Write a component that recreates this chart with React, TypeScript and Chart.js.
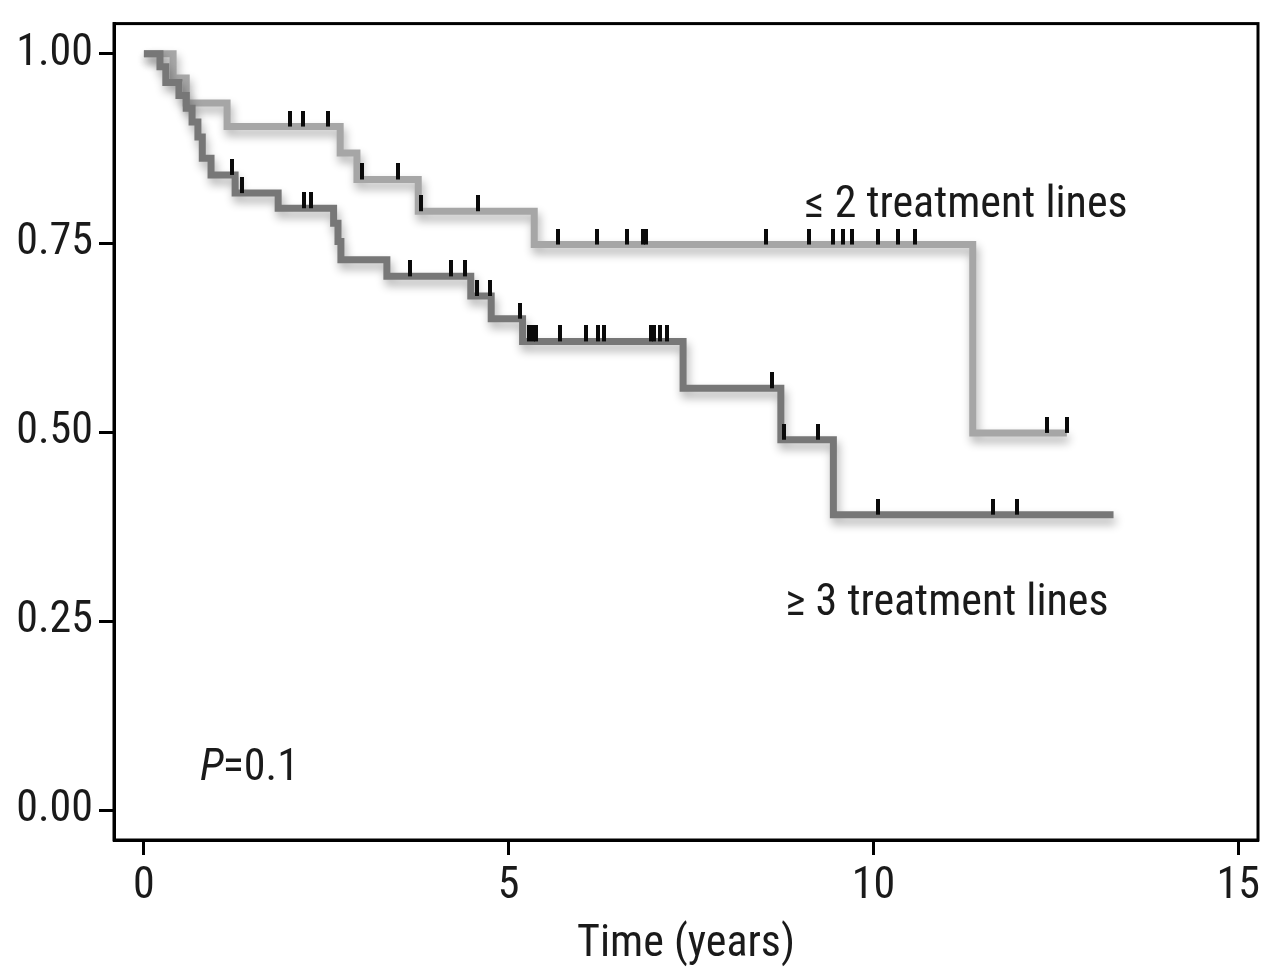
import React, { useEffect, useRef } from "react";
import { Chart, registerables } from "chart.js";

Chart.register(...registerables);

const FONT = '"Roboto Condensed", "DejaVu Sans Condensed", sans-serif';

const xTicks = [0, 5, 10, 15];
const yTicks = [0, 0.25, 0.5, 0.75, 1.0];

// <= 2 treatment lines (light grey)
const lowTimes = [0, 0.4, 0.58, 1.14, 2.69, 2.92, 3.76, 5.35, 11.36, 12.65];
const lowSurv = [1.0, 0.968, 0.935, 0.904, 0.869, 0.834, 0.792, 0.748, 0.499, 0.499];
const lowCensorTimes = [2.0, 2.18, 2.52, 2.99, 3.48, 3.8, 4.58, 5.68, 6.21, 6.62, 6.84, 6.88, 8.52, 9.12, 9.45, 9.58, 9.7, 10.06, 10.34, 10.57, 12.38, 12.65];

// >= 3 treatment lines (dark grey)
const highTimes = [0, 0.22, 0.3, 0.48, 0.58, 0.66, 0.74, 0.8, 0.92, 1.25, 1.84, 2.6, 2.66, 2.7, 3.33, 4.48, 4.76, 5.19, 7.39, 8.73, 9.45, 13.29];
const highSurv = [1.0, 0.983, 0.962, 0.945, 0.928, 0.91, 0.89, 0.862, 0.84, 0.816, 0.796, 0.776, 0.752, 0.728, 0.706, 0.68, 0.65, 0.62, 0.558, 0.49, 0.391, 0.391];
const highCensorTimes = [1.21, 1.35, 2.19, 2.29, 3.65, 4.21, 4.4, 4.56, 4.74, 5.16, 5.28, 5.33, 5.38, 5.7, 6.06, 6.23, 6.31, 6.95, 6.99, 7.07, 7.17, 8.61, 8.77, 9.24, 10.06, 11.64, 11.96];

const LIGHT = "#a6a6a6";
const DARK = "#777777";

function survivalAt(times: number[], surv: number[], t: number) {
  let v = surv[0];
  for (let i = 0; i < times.length; i++) {
    if (times[i] <= t) v = surv[i];
  }
  return v;
}

export default function App() {
  const ref = useRef<HTMLCanvasElement | null>(null);

  useEffect(() => {
    const canvas = ref.current;
    if (!canvas) return;

    const mark = document.createElement("canvas");
    mark.width = 4;
    mark.height = 32;
    const mctx = mark.getContext("2d")!;
    mctx.fillStyle = "#0a0a0a";
    mctx.fillRect(0, 0, 4, 16);

    const shadowPlugin = {
      id: "kmShadow",
      beforeDatasetDraw(chart: any, args: any) {
        if (args.index < 2) {
          const ctx = chart.ctx;
          ctx.save();
          ctx.shadowColor = "rgba(0,0,0,0.32)";
          ctx.shadowBlur = 10;
          ctx.shadowOffsetX = 2;
          ctx.shadowOffsetY = 6;
        }
      },
      afterDatasetDraw(chart: any, args: any) {
        if (args.index < 2) chart.ctx.restore();
      },
    };

    const decorPlugin = {
      id: "kmDecor",
      afterDraw(chart: any) {
        const { ctx, chartArea } = chart;
        const xs = chart.scales.x;
        const ys = chart.scales.y;
        ctx.save();
        ctx.strokeStyle = "#000";
        ctx.lineWidth = 3;
        ctx.strokeRect(chartArea.left, chartArea.top, chartArea.right - chartArea.left, chartArea.bottom - chartArea.top);

        ctx.fillStyle = "#1a1a1a";
        ctx.textBaseline = "alphabetic";
        ctx.textAlign = "left";
        ctx.font = `44px ${FONT}`;
        ctx.fillText("\u2264 2 treatment lines", xs.getPixelForValue(9.06), ys.getPixelForValue(0.785));
        ctx.fillText("\u2265 3 treatment lines", xs.getPixelForValue(8.79), ys.getPixelForValue(0.258));

        const px = xs.getPixelForValue(0.77);
        const py = ys.getPixelForValue(0.04);
        ctx.font = `italic 44px ${FONT}`;
        ctx.fillText("P", px, py);
        const w = ctx.measureText("P").width;
        ctx.font = `44px ${FONT}`;
        ctx.fillText("=0.1", px + w - 1, py);
        ctx.restore();
      },
    };

    const chart = new Chart(canvas, {
      type: "line",
      data: {
        datasets: [
          {
            label: "\u2265 3 treatment lines",
            data: highTimes.map((t, i) => ({ x: t, y: highSurv[i] })),
            stepped: "before",
            borderColor: DARK,
            borderWidth: 7,
            pointRadius: 0,
            fill: false,
            order: 2,
          } as any,
          {
            label: "\u2264 2 treatment lines",
            data: lowTimes.map((t, i) => ({ x: t, y: lowSurv[i] })),
            stepped: "before",
            borderColor: LIGHT,
            borderWidth: 7,
            pointRadius: 0,
            fill: false,
            order: 3,
          } as any,
          {
            type: "scatter",
            label: "censored \u2265 3",
            data: highCensorTimes.map((t) => ({ x: t, y: survivalAt(highTimes, highSurv, t) })),
            pointStyle: mark,
            pointRadius: 10,
            showLine: false,
            order: 0,
          } as any,
          {
            type: "scatter",
            label: "censored \u2264 2",
            data: lowCensorTimes.map((t) => ({ x: t, y: survivalAt(lowTimes, lowSurv, t) })),
            pointStyle: mark,
            pointRadius: 10,
            showLine: false,
            order: 1,
          } as any,
        ],
      },
      options: {
        animation: false,
        responsive: false,
        devicePixelRatio: 1,
        layout: { padding: { left: 0, right: 22, top: 22, bottom: 0 } },
        plugins: { legend: { display: false }, tooltip: { enabled: false } },
        scales: {
          x: {
            type: "linear",
            min: -0.41,
            max: 15.27,
            afterBuildTicks: (axis: any) => {
              axis.ticks = xTicks.map((v) => ({ value: v }));
            },
            afterFit: (axis: any) => {
              axis.height = 135;
            },
            ticks: {
              font: { family: FONT, size: 44 },
              color: "#1a1a1a",
              padding: 6,
              maxRotation: 0,
              autoSkip: false,
            },
            grid: { drawOnChartArea: false, drawTicks: true, tickLength: 15, tickWidth: 3, tickColor: "#000" },
            border: { display: true, color: "#000", width: 3 },
            title: {
              display: true,
              text: "Time (years)",
              font: { family: FONT, size: 44 },
              color: "#1a1a1a",
              padding: { top: 0, bottom: 4 },
            },
          },
          y: {
            type: "linear",
            min: -0.039,
            max: 1.04,
            afterBuildTicks: (axis: any) => {
              axis.ticks = yTicks.map((v) => ({ value: v }));
            },
            afterFit: (axis: any) => {
              axis.width = 114;
            },
            ticks: {
              font: { family: FONT, size: 44, lineHeight: 0.8 },
              color: "#1a1a1a",
              padding: 6,
              autoSkip: false,
              callback: (v: any) => Number(v).toFixed(2),
            },
            grid: { drawOnChartArea: false, drawTicks: true, tickLength: 15, tickWidth: 3, tickColor: "#000" },
            border: { display: true, color: "#000", width: 3 },
          },
        },
      },
      plugins: [shadowPlugin, decorPlugin],
    } as any);

    return () => chart.destroy();
  }, []);

  return (
    <canvas
      ref={ref}
      width={1280}
      height={975}
      style={{ position: "absolute", left: 0, top: 0, width: 1280, height: 975, background: "#fff" }}
    />
  );
}
